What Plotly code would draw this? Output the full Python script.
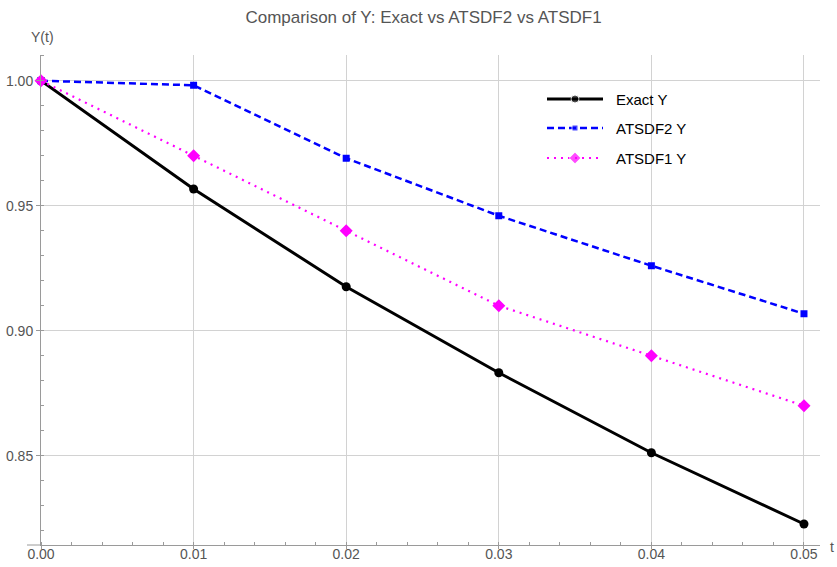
import plotly.graph_objects as go

# time grid and solution values
t = [0.00, 0.01, 0.02, 0.03, 0.04, 0.05]
y_exact = [1.0000, 0.9567, 0.9176, 0.8832, 0.8512, 0.8227]
y_atsdf2 = [1.0000, 0.9982, 0.9690, 0.9460, 0.9260, 0.9068]
y_atsdf1 = [1.0000, 0.9700, 0.9400, 0.9100, 0.8900, 0.8700]

series_names = ["Exact Y", "ATSDF2 Y", "ATSDF1 Y"]
x_ticks = [0.00, 0.01, 0.02, 0.03, 0.04, 0.05]
y_ticks = [0.85, 0.90, 0.95, 1.00]

W, H = 837, 567
ML, MR, MT, MB = 41, 17, 55, 22
PW, PH = W - ML - MR, H - MT - MB


def px(xp):
    return (xp - ML) / PW


def py(yp):
    return 1 - (yp - MT) / PH


FONT = "Liberation Sans, Arial, sans-serif"
GREY = "#555555"
AXIS = "#9a9a9a"
GRID = "#d2d2d2"

styles = [
    dict(line=dict(color="black", width=3), marker=dict(symbol="circle", size=9, color="black")),
    dict(line=dict(color="#0000ff", width=2.5, dash="7px,4px"), marker=dict(symbol="square", size=7, color="#0000ff")),
    dict(line=dict(color="#ff00ff", width=2.2, dash="2px,5px"), marker=dict(symbol="diamond", size=10, color="#ff00ff")),
]

fig = go.Figure()
for ys, name, st in zip([y_exact, y_atsdf2, y_atsdf1], series_names, styles):
    fig.add_trace(go.Scatter(x=t, y=ys, mode="lines+markers", name=name,
                             line=st["line"], marker=st["marker"],
                             cliponaxis=False, showlegend=False))

# legend drawn on an overlay axis measured in screen pixels
leg_rows = [99, 128, 158]
for name, st, ry in zip(series_names, styles, leg_rows):
    m = dict(st["marker"])
    m["size"] = [0, m["size"] - 1, 0]
    fig.add_trace(go.Scatter(x=[547, 575, 603], y=[ry, ry, ry], mode="lines+markers",
                             line=st["line"], marker=m, xaxis="x2", yaxis="y2",
                             showlegend=False, hoverinfo="skip", cliponaxis=False))
    fig.add_annotation(x=614, y=ry, xref="x2", yref="y2", text=name, showarrow=False,
                       xanchor="left", yanchor="middle",
                       font=dict(family=FONT, size=15, color="black"))

fig.update_layout(
    width=W, height=H,
    margin=dict(l=ML, r=MR, t=MT, b=MB, autoexpand=False),
    paper_bgcolor="white", plot_bgcolor="white",
    title=dict(text="Comparison of Y: Exact vs ATSDF2 vs ATSDF1",
               xref="container", yref="container",
               x=423.5 / W, xanchor="center", y=1 - 17 / H, yanchor="middle",
               font=dict(family=FONT, size=17, color=GREY)),
    xaxis=dict(range=[0, 0.05105], tickvals=x_ticks, ticktext=[f"{v:.2f}" for v in x_ticks],
               automargin=False, ticklabelstandoff=-7,
               showgrid=True, gridcolor=GRID, gridwidth=1, zeroline=False,
               showline=True, linecolor=AXIS, linewidth=1,
               ticks="outside", ticklen=3, tickcolor=AXIS,
               minor=dict(dtick=0.002, tick0=0, ticks="inside", ticklen=3, tickcolor=AXIS, showgrid=False),
               tickfont=dict(family=FONT, size=14, color=GREY)),
    yaxis=dict(range=[0.8143, 1.0103], tickvals=y_ticks, ticktext=[f"{v:.2f}" for v in y_ticks],
               automargin=False,
               showgrid=True, gridcolor=GRID, gridwidth=1, zeroline=False,
               showline=True, linecolor=AXIS, linewidth=1,
               ticks="outside", ticklen=4, tickcolor=AXIS,
               minor=dict(dtick=0.01, tick0=0.8, ticks="inside", ticklen=3, tickcolor=AXIS, showgrid=False),
               tickfont=dict(family=FONT, size=14, color=GREY)),
    xaxis2=dict(domain=[0, 1], range=[ML, W - MR], overlaying="x", visible=False,
                fixedrange=True, automargin=False),
    yaxis2=dict(domain=[0, 1], range=[H - MB, MT], overlaying="y", visible=False,
                fixedrange=True, automargin=False),
    showlegend=False,
)

# x axis extends a little to the left of the origin
fig.add_shape(type="line", xref="paper", yref="paper", x0=px(27), x1=0, y0=0, y1=0,
              line=dict(color=AXIS, width=1))

# axis labels
fig.add_annotation(x=px(42), y=py(37), xref="paper", yref="paper", text="Y(t)", showarrow=False,
                   xanchor="center", yanchor="middle", font=dict(family=FONT, size=14, color=GREY))
fig.add_annotation(x=px(832), y=py(547), xref="paper", yref="paper", text="t", showarrow=False,
                   xanchor="center", yanchor="middle", font=dict(family=FONT, size=14, color=GREY))

fig.write_html("out.html")
